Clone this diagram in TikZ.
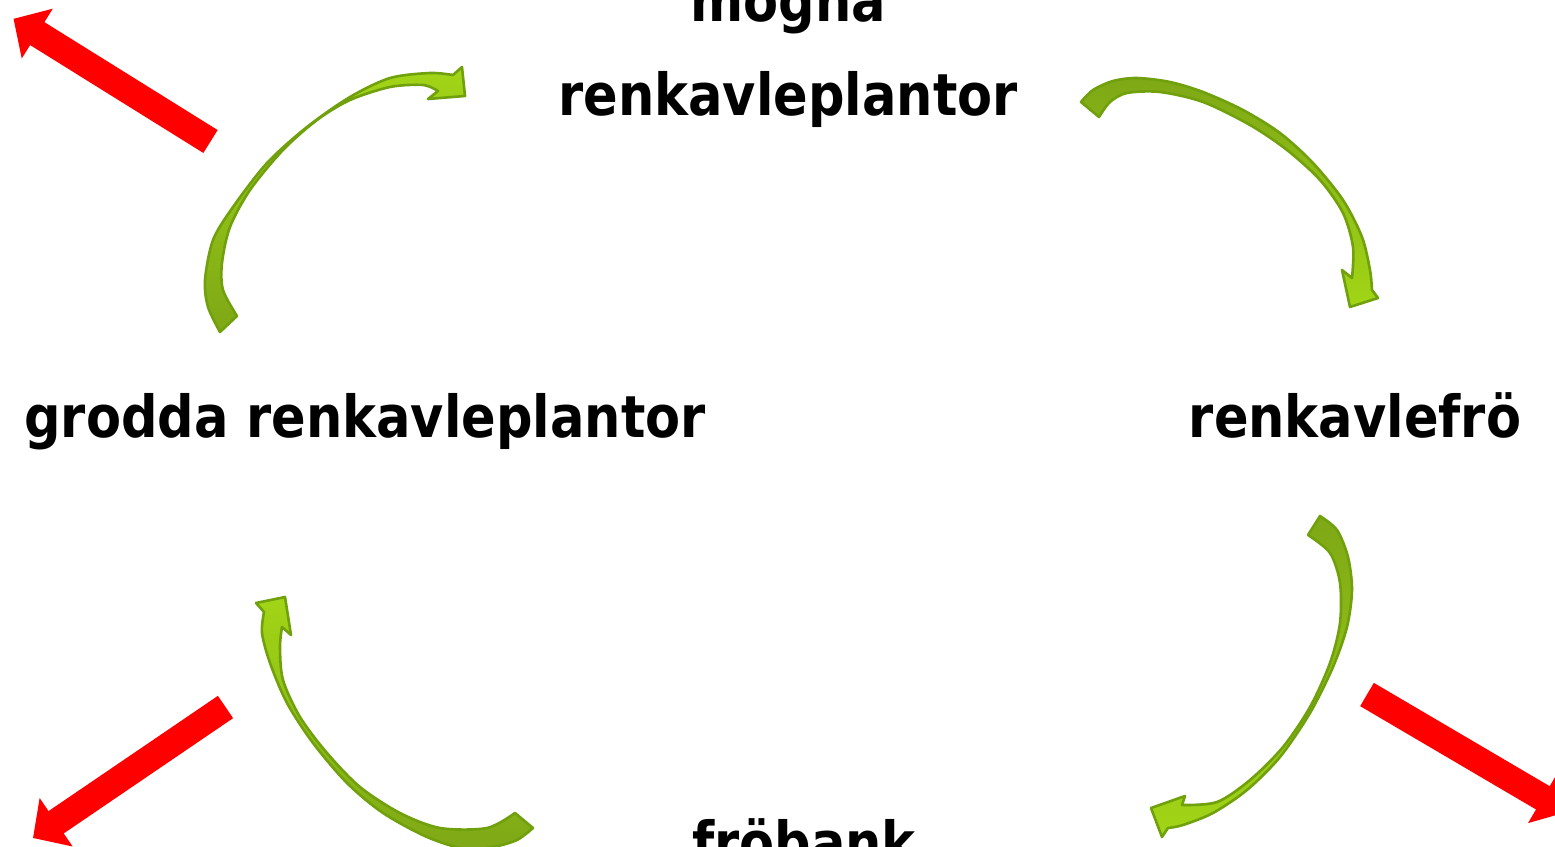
\documentclass[tikz,border=0pt]{standalone}
\usepackage{fontspec}
\setmainfont{DejaVu Sans}
\usetikzlibrary{arrows.meta}
\definecolor{gdark}{HTML}{7EA816}
\definecolor{glight}{HTML}{A2D516}
\definecolor{gline}{HTML}{70A00C}
\newcommand\sqz[1]{\scalebox{0.88}[1]{#1}}
\begin{document}
\begin{tikzpicture}[x=0.5pt,y=-0.5pt,
  lbl/.style={font=\fontsize{29}{47}\selectfont\bfseries, inner sep=0pt},
  garrow/.style={draw=gline, line width=1.3pt, line join=round},
  rarrow/.style={draw=red, line width=13.5pt, -{Triangle[length=14pt,width=28.5pt]}}]
\useasboundingbox (0,0) rectangle (1555,847);

% labels
\node[lbl, anchor=base, align=center] (mogna) at (788,115) {\sqz{mogna}\\\sqz{renkavleplantor}};
\node[lbl, anchor=base] (grodda) at (365,437) {\sqz{grodda renkavleplantor}};
\node[lbl, anchor=base] (fro) at (1355,437) {\sqz{renkavlefrö}};
\node[lbl, anchor=base] (frobank) at (804,863) {\sqz{fröbank}};

% green curved arrows
\shadedraw[garrow, top color=glight, bottom color=gdark]
  plot[smooth] coordinates {(220,332) (208,307) (205,280) (213,240) (233,207) (267,163) (307,127) (350,97) (390,78) (430,73) (453,75)}
  -- (462,67) -- (465,96) -- (428,99)
  -- plot[smooth] coordinates {(438,91) (423,85) (390,87) (350,100) (317,120) (283,150) (250,190) (230,227) (222,263) (223,290) (237,316)}
  -- cycle;

\shadedraw[garrow, top color=gdark, bottom color=glight]
  plot[smooth] coordinates {(1081,102) (1093,90) (1113,81) (1137,78) (1170,82) (1203,92) (1243,110) (1280,133) (1313,163) (1343,200) (1362,237) (1370,270) (1372,290)}
  -- (1378,298) -- (1350,307) -- (1342,270)
  -- plot[smooth] coordinates {(1352,278) (1353,247) (1343,213) (1320,180) (1287,150) (1250,125) (1203,102) (1160,92) (1127,93) (1110,102) (1099,117)}
  -- cycle;

\shadedraw[garrow, top color=gdark, bottom color=glight]
  plot[smooth] coordinates {(1320,516) (1337,530) (1348,557) (1352,590) (1347,627) (1333,667) (1310,713) (1280,757) (1247,790) (1213,813) (1183,825) (1168,828)}
  -- (1162,837) -- (1151,808) -- (1185,796)
  -- plot[smooth] coordinates {(1182,805) (1217,802) (1250,780) (1283,747) (1310,707) (1330,663) (1340,623) (1340,583) (1330,553) (1308,535)}
  -- cycle;

\shadedraw[garrow, top color=glight, bottom color=gdark]
  plot[smooth] coordinates {(533,828) (517,840) (493,847) (465,849) (427,837) (383,813) (347,783) (313,743) (287,703) (270,663) (262,633) (264,612)}
  -- (256,603) -- (285,597) -- (291,635)
  -- plot[smooth] coordinates {(282,627) (280,647) (283,680) (300,717) (327,753) (360,787) (400,813) (440,828) (487,828) (515,813)}
  -- cycle;

% red arrows
\coordinate (rA1) at (210.5,141.5); \coordinate (rA2) at (13.5,18.8);
\coordinate (rB1) at (1367,694.5);  \coordinate (rB2) at (1567,812);
\coordinate (rC1) at (225.5,707);   \coordinate (rC2) at (33,838);
\draw[rarrow] (rA1) -- (rA2);
\draw[rarrow] (rB1) -- (rB2);
\draw[rarrow] (rC1) -- (rC2);
\end{tikzpicture}
\end{document}
